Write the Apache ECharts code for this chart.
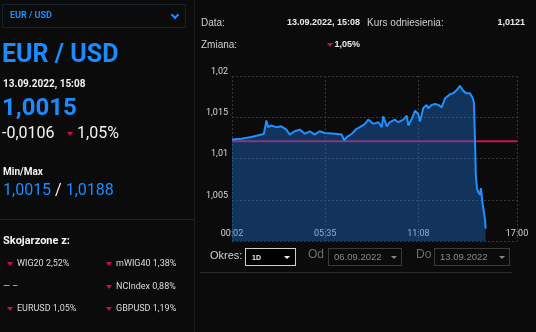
<!DOCTYPE html>
<html>
<head>
<meta charset="utf-8">
<script src="https://cdn.jsdelivr.net/npm/echarts@6/dist/echarts.min.js"></script>
<style>
  html, body { margin:0; padding:0; background:#0b0b0b; width:536px; height:332px; overflow:hidden; }
  #chart { position:absolute; left:0; top:0; width:536px; height:332px; }
  .t { position:absolute; white-space:nowrap; line-height:1; }
  .rb { font-family:Roboto, sans-serif; }
  .ar { font-family:"Liberation Sans", Arial, sans-serif; }
  .tri { position:absolute; width:0; height:0; border-left:3.5px solid transparent; border-right:3.5px solid transparent; border-top:4px solid #d0103a; }
  .wtri { position:absolute; width:0; height:0; border-left:3px solid transparent; border-right:3px solid transparent; border-top:3.5px solid #ddd; }
  .box { position:absolute; box-sizing:border-box; }
  .hl { position:absolute; height:1px; background:#242424; }
  .chev { position:absolute; width:4px; height:4px; border-right:2px solid #1a8cff; border-bottom:2px solid #1a8cff; transform:rotate(45deg); }
</style>
</head>
<body>
<div id="chart"></div>

<!-- left panel -->
<div class="box" style="left:2px;top:4px;width:184px;height:24px;border:1px solid #16222e;"></div>
<div class="t rb" style="left:10px;top:11px;font-size:9px;font-weight:700;color:#1a8cff;">EUR / USD</div>
<div class="chev" style="left:172px;top:12px;"></div>
<div class="t rb" style="left:2px;top:41px;font-size:25px;font-weight:700;color:#1a8cff;">EUR / USD</div>
<div class="t rb" style="left:3px;top:79px;font-size:10px;font-weight:700;color:#f2f2f2;">13.09.2022, 15:08</div>
<div class="t rb" style="left:2px;top:95px;font-size:24px;font-weight:700;color:#1a8cff;">1,0015</div>
<div class="t rb" style="left:2px;top:125px;font-size:16px;color:#f2f2f2;">-0,0106</div>
<div class="tri" style="left:67px;top:132px;"></div>
<div class="t rb" style="left:77px;top:125px;font-size:16px;color:#f2f2f2;">1,05%</div>
<div class="t rb" style="left:3px;top:167px;font-size:10px;font-weight:700;color:#f2f2f2;">Min/Max</div>
<div class="t rb" style="left:3px;top:182px;font-size:16px;color:#1a8cff;">1,0015 <span style="color:#f2f2f2">/</span> 1,0188</div>
<div class="hl" style="left:0;top:219px;width:194px;"></div>
<div class="t rb" style="left:3px;top:235px;font-size:11px;font-weight:700;color:#f2f2f2;">Skojarzone z:</div>
<div class="tri" style="left:7px;top:262px;"></div>
<div class="t rb" style="left:17px;top:259px;font-size:9px;color:#dcdcdc;">WIG20 2,52%</div>
<div class="tri" style="left:106px;top:262px;"></div>
<div class="t rb" style="left:116px;top:259px;font-size:9px;color:#dcdcdc;">mWIG40 1,38%</div>
<div class="t rb" style="left:3px;top:282px;font-size:9px;color:#dcdcdc;">— –</div>
<div class="tri" style="left:106px;top:285px;"></div>
<div class="t rb" style="left:116px;top:282px;font-size:9px;color:#dcdcdc;">NCIndex 0,88%</div>
<div class="tri" style="left:7px;top:307px;"></div>
<div class="t rb" style="left:17px;top:304px;font-size:9px;color:#dcdcdc;">EURUSD 1,05%</div>
<div class="tri" style="left:106px;top:307px;"></div>
<div class="t rb" style="left:116px;top:304px;font-size:9px;color:#dcdcdc;">GBPUSD 1,19%</div>
<div style="position:absolute;left:194px;top:0;width:1px;height:332px;background:#1c1c1c;"></div>

<!-- right panel header -->
<div class="t ar" style="left:201px;top:18px;font-size:10px;color:#cfcfcf;">Data:</div>
<div class="t ar" style="left:250px;width:110px;text-align:right;top:18px;font-size:9px;font-weight:700;color:#eaeaea;">13.09.2022, 15:08</div>
<div class="t ar" style="left:367px;top:18px;font-size:10px;color:#cfcfcf;">Kurs odniesienia:</div>
<div class="t ar" style="left:450px;width:75px;text-align:right;top:18px;font-size:9px;font-weight:700;color:#eaeaea;">1,0121</div>
<div class="t ar" style="left:201px;top:40px;font-size:10px;color:#cfcfcf;">Zmiana:</div>
<div class="tri" style="left:327px;top:43px;"></div>
<div class="t ar" style="left:300px;width:60px;text-align:right;top:40px;font-size:9px;font-weight:700;color:#eaeaea;">1,05%</div>

<!-- bottom controls -->
<div class="t ar" style="left:210px;top:250px;font-size:11px;color:#d0d0d0;">Okres:</div>
<div class="box" style="left:245px;top:248px;width:51px;height:18px;border:1px solid #cfcfcf;background:#000;"></div>
<div class="t ar" style="left:252px;top:254px;font-size:7px;font-weight:700;color:#eee;">1D</div>
<div class="wtri" style="left:284px;top:256px;border-top-color:#fff;"></div>
<div class="t ar" style="left:308px;top:248px;font-size:12px;color:#6f6f6f;">Od</div>
<div class="box" style="left:328px;top:248px;width:74px;height:18px;border:1px solid #3a3a3a;"></div>
<div class="t ar" style="left:334px;top:252px;font-size:9.5px;color:#8a8a8a;">06.09.2022</div>
<div class="wtri" style="left:391px;top:256px;border-top-color:#888;"></div>
<div class="t ar" style="left:416px;top:248px;font-size:12px;color:#6f6f6f;">Do</div>
<div class="box" style="left:434px;top:248px;width:76px;height:18px;border:1px solid #3a3a3a;"></div>
<div class="t ar" style="left:440px;top:252px;font-size:9.5px;color:#8a8a8a;">13.09.2022</div>
<div class="wtri" style="left:499px;top:256px;border-top-color:#888;"></div>
<div class="hl" style="left:200px;top:272px;width:312px;background:#2a2a2a;"></div>

<script>
// ---- data ----
const times = ['00:02','00:35','01:11','01:47','01:56','02:05','02:11','02:22','02:40','02:58',
  '03:16','03:28','03:46','04:04','04:22','04:40','04:57','05:15','05:34','06:10',
  '06:34','06:43','06:52','07:10','07:27','07:39','07:57','08:09','08:27','08:45',
  '08:57','09:02','09:15','09:26','09:44','09:56','10:14','10:26','10:32','10:44',
  '10:56','11:07','11:14','11:25','11:37','11:43','11:55','12:07','12:19','12:31',
  '12:43','13:01','13:12','13:25','13:36','13:48','14:00','14:12','14:22','14:26',
  '14:30','14:33','14:37','14:42','14:48','14:51','14:57','15:06','15:08'];
const values = [1.0123,1.0124,1.0126,1.0129,1.0130,1.0146,1.0138,1.0140,1.0138,1.0139,
  1.0135,1.0129,1.0133,1.0135,1.0130,1.0133,1.0129,1.0133,1.0131,1.0130,
  1.0129,1.0122,1.0126,1.0130,1.0136,1.0138,1.0142,1.0147,1.0142,1.0144,
  1.0138,1.0151,1.0139,1.0144,1.0147,1.0144,1.0147,1.0152,1.0140,1.0148,
  1.0158,1.0154,1.0145,1.0161,1.0165,1.0161,1.0165,1.0166,1.0165,1.0162,
  1.0173,1.0178,1.0179,1.0183,1.0188,1.0182,1.0179,1.0179,1.0173,1.0168,
  1.0122,1.0079,1.0064,1.0059,1.0056,1.0064,1.0046,1.0025,1.0015];
const referenceValue = 1.0121;
const xTickLabels = ['00:02','05:35','11:08','17:00'];
const yMin = 1.0, yMax = 1.02, yStep = 0.005;

// ---- helpers ----
const toMin = s => { const [h, m] = s.split(':').map(Number); return h * 60 + m; };
const toHHMM = v => { const h = Math.floor(v / 60), m = Math.round(v % 60); return String(h).padStart(2,'0') + ':' + String(m).padStart(2,'0'); };
const xTicks = xTickLabels.map(toMin);
const xMin = xTicks[0], xMax = xTicks[xTicks.length - 1];
const gridStyle = { color: '#383838', type: [2, 2], width: 1 };

const chart = echarts.init(document.getElementById('chart'), null, { renderer: 'canvas' });
chart.setOption({
  backgroundColor: 'transparent',
  animation: false,
  grid: { left: 232, right: 19, top: 76, bottom: 91 },
  xAxis: {
    type: 'value', min: xMin, max: xMax,
    axisLine: { show: false },
    axisTick: { show: false, customValues: xTicks },
    axisLabel: { customValues: xTicks, inside: true, margin: 3, color: '#d8d8d8', fontSize: 9,
      fontFamily: 'Roboto', formatter: v => toHHMM(v) },
    splitLine: { show: true, lineStyle: gridStyle }
  },
  yAxis: {
    type: 'value', min: yMin, max: yMax, interval: yStep,
    axisLine: { show: false }, axisTick: { show: false },
    axisLabel: { color: '#d8d8d8', fontSize: 9, fontFamily: 'Roboto', margin: 4,
      verticalAlign: 'bottom', showMinLabel: false,
      formatter: v => String(+v.toFixed(3)).replace('.', ',') },
    splitLine: { show: true, lineStyle: gridStyle }
  },
  series: [
    { type: 'line', z: 1, silent: true, symbol: 'none',
      data: [[xMin, referenceValue], [xMax, referenceValue]],
      lineStyle: { color: '#c4174a', width: 2 } },
    { type: 'line', z: 2, symbol: 'none',
      data: times.map((t, i) => [toMin(t), values[i]]),
      lineStyle: { color: '#2090ff', width: 2 },
      areaStyle: { color: 'rgba(30,112,212,0.4)', origin: 'start', opacity: 1 } }
  ]
});
</script>
</body>
</html>
